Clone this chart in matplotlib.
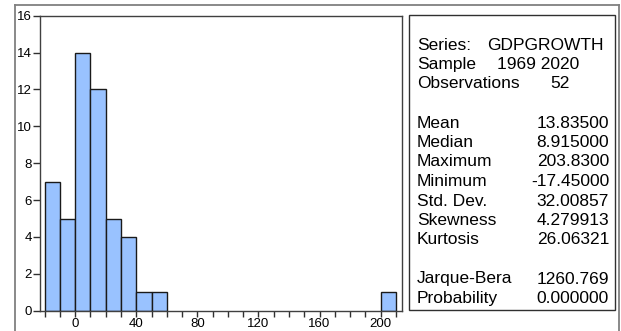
"""EViews-style histogram of GDP growth with descriptive statistics box."""
import matplotlib
matplotlib.use('Agg')
import matplotlib.pyplot as plt
from matplotlib.lines import Line2D
from matplotlib.patches import Rectangle

plt.rcParams['font.family'] = ['Liberation Sans', 'DejaVu Sans']

# Histogram bins (left edge, width 10) and counts
BIN_LEFT = [-20, -10, 0, 10, 20, 30, 40, 50, 200]
COUNTS = [7, 5, 14, 12, 5, 4, 1, 1, 1]
BIN_WIDTH = 10

# Statistics box
HEADER_NAMES = ['Series:', 'Sample', 'Observations']
HEADER_VALUES = ['GDPGROWTH', '1969 2020', '52']
STAT_NAMES = ['Mean', 'Median', 'Maximum', 'Minimum', 'Std. Dev.',
              'Skewness', 'Kurtosis']
STAT_VALUES = ['13.83500', '8.915000', '203.8300', '-17.45000', '32.00857',
               '4.279913', '26.06321']
TEST_NAMES = ['Jarque-Bera', 'Probability']
TEST_VALUES = ['1260.769', '0.000000']

W, H = 621, 331
BAR_COLOR = '#99c2ff'
HEADER_X = [487, 497, 550]  # pixel x of the header values


def fx(px):
    return px / W


def fy(py):
    return 1 - py / H


def main():
    fig = plt.figure(figsize=(W / 100, H / 100), dpi=100)

    # Outer frame (open at the bottom)
    frame = dict(color='#808080', linewidth=1.3, transform=fig.transFigure)
    fig.add_artist(Line2D([fx(14.5), fx(619)], [fy(5), fy(5)], **frame))
    fig.add_artist(Line2D([fx(14.5), fx(14.5)], [fy(5), 0], **frame))
    fig.add_artist(Line2D([fx(619), fx(619)], [fy(5), 0], **frame))

    ax = fig.add_axes([fx(40), fy(310.7), fx(402) - fx(40),
                       fy(15.7) - fy(310.7)])
    ax.bar(BIN_LEFT, COUNTS, width=BIN_WIDTH, align='edge',
           color=BAR_COLOR, edgecolor='#1a1a1a', linewidth=1.0)
    ax.set_xlim(-23, 214)
    ax.set_ylim(0, 16)
    ax.set_xticks(range(0, 201, 40))
    ax.set_xticks(range(-20, 211, 10), minor=True)
    ax.set_yticks(range(0, 17, 2))
    for s in ax.spines.values():
        s.set_color('#404040')
        s.set_linewidth(1.0)
    ax.tick_params(axis='both', which='both', direction='out', color='#303030',
                   labelsize=9.5, width=1.0)
    ax.tick_params(axis='x', which='both', length=4, pad=1)
    ax.tick_params(axis='y', length=5, pad=1)

    # Statistics box
    fig.add_artist(Rectangle((fx(409), fy(310)), fx(615) - fx(409),
                             fy(15) - fy(310), transform=fig.transFigure,
                             facecolor='white', edgecolor='#303030',
                             linewidth=1.0))
    lx, rx = fx(417), fx(609)
    step = 19.5
    y = 45
    txt = dict(fontsize=12.5, va='center', transform=fig.transFigure)
    for name, val, vx in zip(HEADER_NAMES, HEADER_VALUES, HEADER_X):
        fig.text(lx, fy(y), name, ha='left', **txt)
        fig.text(fx(vx), fy(y), val, ha='left', **txt)
        y += step
    y += step
    for name, val in zip(STAT_NAMES, STAT_VALUES):
        fig.text(lx, fy(y), name, ha='left', **txt)
        fig.text(rx, fy(y), val, ha='right', **txt)
        y += step
    y += step
    for name, val in zip(TEST_NAMES, TEST_VALUES):
        fig.text(lx, fy(y), name, ha='left', **txt)
        fig.text(rx, fy(y), val, ha='right', **txt)
        y += step

    fig.savefig('out.png', dpi=100)


if __name__ == '__main__':
    main()
